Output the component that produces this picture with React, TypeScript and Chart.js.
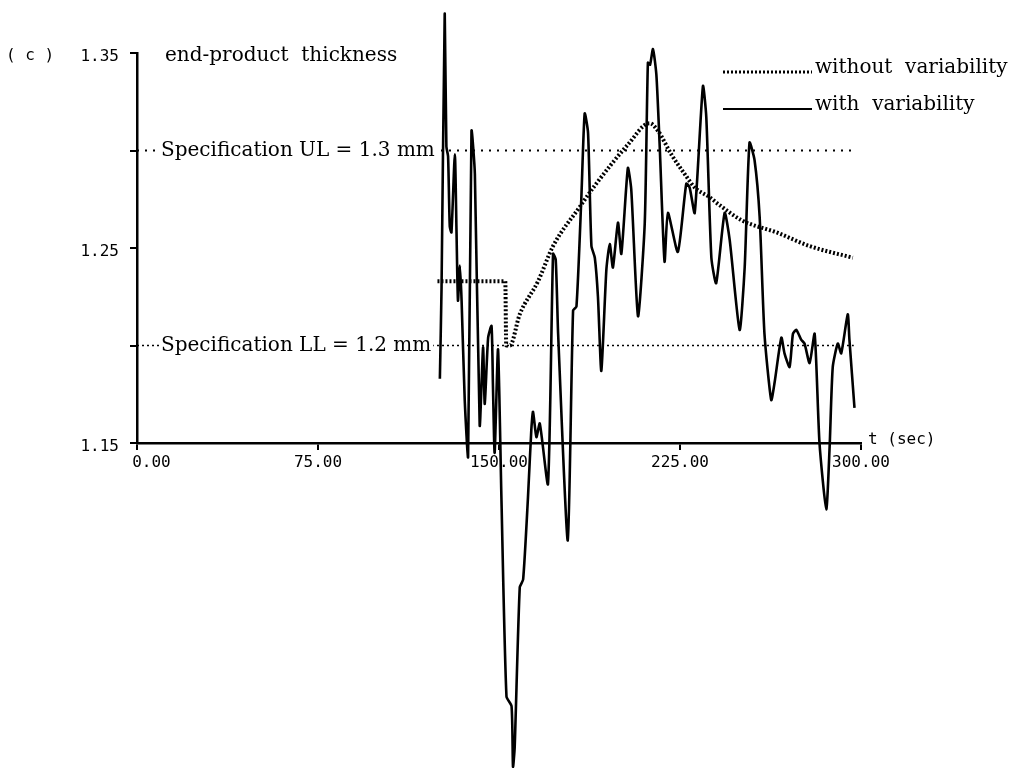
import React, { useEffect, useRef } from "react";
import { Chart, registerables } from "chart.js";

Chart.register(...registerables);

// ---- data ----
const withTimes = [
  125.5, 126.2, 127.5, 128.2, 128.9, 129.6, 130.3, 131.7, 132.4, 133.0, 133.8, 134.5, 135.8, 137.2,
  138.6, 140.0, 142.0, 143.4, 144.1, 145.5, 146.9, 147.5, 148.2, 149.6, 151.0, 153.1, 155.2, 155.8,
  156.5, 158.6, 160.0, 162.0, 163.4, 164.1, 165.5, 166.9, 170.3, 172.4, 173.5, 174.5, 178.5, 180.7,
  182.1, 184.1, 185.5, 186.9, 188.3, 189.7, 191.0, 192.4, 194.5, 195.9, 197.2, 199.3, 200.7, 203.4,
  204.8, 207.6, 210.4, 211.7, 212.6, 213.8, 215.2, 216.6, 218.6, 220.0, 224.1, 227.6, 229.0, 231.1,
  234.5, 235.9, 238.0, 240.0, 243.5, 245.6, 249.7, 251.8, 253.8, 255.9, 258.0, 260.0, 262.8, 264.2,
  267.0, 268.3, 270.4, 271.8, 273.2, 275.2, 276.6, 278.7, 280.8, 282.8, 285.6, 287.0, 288.3, 290.4,
  291.8, 294.5, 295.2, 297.3,
];
const withValues = [
  1.183, 1.23, 1.37, 1.302, 1.297, 1.261, 1.258, 1.298, 1.258, 1.223, 1.241, 1.223, 1.172, 1.143,
  1.31, 1.288, 1.159, 1.199, 1.17, 1.204, 1.21, 1.179, 1.145, 1.198, 1.122, 1.02, 1.015, 0.984,
  0.994, 1.076, 1.08, 1.122, 1.157, 1.166, 1.153, 1.16, 1.129, 1.247, 1.244, 1.206, 1.1, 1.218,
  1.22, 1.275, 1.319, 1.309, 1.251, 1.245, 1.225, 1.187, 1.239, 1.252, 1.24, 1.263, 1.247, 1.291,
  1.28, 1.215, 1.263, 1.345, 1.344, 1.352, 1.339, 1.302, 1.243, 1.268, 1.248, 1.283, 1.281, 1.268,
  1.333, 1.317, 1.245, 1.232, 1.268, 1.254, 1.208, 1.24, 1.304, 1.295, 1.266, 1.206, 1.172, 1.181,
  1.204, 1.196, 1.189, 1.206, 1.208, 1.203, 1.201, 1.191, 1.206, 1.15, 1.116, 1.148, 1.189, 1.201,
  1.196, 1.216, 1.203, 1.168,
];
const withoutTimes = [
  124.5, 152.6, 153.0, 154.5, 158.6, 166.2, 172.4, 183.4, 189.7, 203.4, 212.4, 215.9, 221.4, 226.9,
  231.1, 237.3, 241.4, 250.9, 265.0, 278.7, 296.6,
];
const withoutValues = [
  1.233, 1.233, 1.2, 1.2, 1.216, 1.233, 1.251, 1.271, 1.282, 1.303, 1.314, 1.31, 1.298, 1.288,
  1.281, 1.276, 1.272, 1.264, 1.258, 1.251, 1.245,
];
const xTickValues = [0, 75, 150, 225, 300];
const xTickLabels = ["   0.00", "75.00", "150.00", "225.00", "300.00"];
const yTickValues = [1.15, 1.2, 1.25, 1.3, 1.35];
const yTickLabels = ["1.15", "", "1.25", "", "1.35"];
const specUL = 1.3;
const specLL = 1.2;
const specTimes = [0, 297];
const seriesLabels = ["without  variability", "with  variability"];
const panelText = "( c )";
const titleText = "end-product  thickness";
const xAxisTitle = "t (sec)";
const ulText = "Specification UL = 1.3 mm";
const llText = "Specification LL = 1.2 mm";

const MONO = '"DejaVu Sans Mono", monospace';
const SERIF = '"DejaVu Serif", serif';

const toPoints = (ts: number[], vs: number[]) => ts.map((t, i) => ({ x: t, y: vs[i] }));

const annotatePlugin = {
  id: "annotate",
  afterDraw(chart: any) {
    const ctx = chart.ctx as CanvasRenderingContext2D;
    const xs = chart.scales.x;
    const ys = chart.scales.y;
    ctx.save();
    ctx.fillStyle = "#000";
    ctx.textBaseline = "middle";
    ctx.textAlign = "left";

    const topY = ys.getPixelForValue(1.35);
    ctx.font = `16px ${MONO}`;
    ctx.fillText(panelText, 6, topY + 3);
    ctx.font = `20px ${SERIF}`;
    ctx.fillText(titleText, 165, topY + 3);

    // specification labels sitting on their dotted lines
    const specs: [number, string][] = [
      [specUL, ulText],
      [specLL, llText],
    ];
    for (const [val, txt] of specs) {
      const py = ys.getPixelForValue(val);
      ctx.font = `20px ${SERIF}`;
      const w = ctx.measureText(txt).width;
      ctx.fillStyle = "#fff";
      ctx.fillRect(159, py - 12, w + 4, 24);
      ctx.fillStyle = "#000";
      ctx.fillText(txt, 161, py);
    }

    // x axis title
    ctx.font = `16px ${MONO}`;
    ctx.fillText(xAxisTitle, xs.right + 7, xs.top - 3);

    // legend
    const ds = chart.data.datasets;
    const rows = [
      { y: 72, ds: ds[0], text: seriesLabels[0] },
      { y: 109, ds: ds[1], text: seriesLabels[1] },
    ];
    ctx.textBaseline = "alphabetic";
    for (const r of rows) {
      ctx.save();
      ctx.strokeStyle = "#000";
      ctx.lineWidth = r.ds.legendWidth;
      ctx.setLineDash(r.ds.borderDash || []);
      ctx.beginPath();
      ctx.moveTo(723, r.y);
      ctx.lineTo(812, r.y);
      ctx.stroke();
      ctx.restore();
      ctx.font = `20px ${SERIF}`;
      ctx.fillStyle = "#000";
      ctx.fillText(r.text, 815, r.y + 1);
    }
    ctx.restore();
  },
};

export default function App() {
  const canvasRef = useRef<HTMLCanvasElement | null>(null);

  useEffect(() => {
    if (!canvasRef.current) return;
    const chart = new Chart(canvasRef.current, {
      type: "line",
      data: {
        datasets: [
          {
            label: seriesLabels[0],
            data: toPoints(withoutTimes, withoutValues),
            borderColor: "#000",
            borderWidth: 4,
            borderDash: [2, 2],
            borderCapStyle: "butt",
            pointRadius: 0,
            cubicInterpolationMode: "monotone",
            clip: false,
            legendWidth: 3,
          } as any,
          {
            label: seriesLabels[1],
            data: toPoints(withTimes, withValues),
            borderColor: "#000",
            borderWidth: 2.6,
            pointRadius: 0,
            tension: 0.2,
            clip: false,
            legendWidth: 2,
          } as any,
          {
            label: "UL",
            data: toPoints(specTimes, [specUL, specUL]),
            borderColor: "#000",
            borderWidth: 2,
            borderDash: [2, 6],
            pointRadius: 0,
            clip: false,
          },
          {
            label: "LL",
            data: toPoints(specTimes, [specLL, specLL]),
            borderColor: "#000",
            borderWidth: 1.5,
            borderDash: [2, 3],
            pointRadius: 0,
            clip: false,
          },
        ],
      },
      options: {
        responsive: false,
        animation: false,
        events: [],
        layout: { padding: { top: 53, left: 0, right: 163, bottom: 285 } },
        plugins: { legend: { display: false }, tooltip: { enabled: false } },
        scales: {
          x: {
            type: "linear",
            min: 0,
            max: 300,
            afterBuildTicks: (s: any) => {
              s.ticks = xTickValues.map((v) => ({ value: v }));
            },
            afterFit: (s: any) => {
              s.height = 40;
            },
            ticks: {
              autoSkip: false,
              maxRotation: 0,
              padding: 3,
              color: "#000",
              font: { family: MONO, size: 16 },
              callback: (v: any) => xTickLabels[xTickValues.indexOf(Number(v))] ?? "",
            },
            grid: { drawOnChartArea: false, drawTicks: true, tickLength: 7, color: "#000", lineWidth: 2 },
            border: { display: true, color: "#000", width: 2.5 },
          },
          y: {
            type: "linear",
            min: 1.15,
            max: 1.35,
            afterBuildTicks: (s: any) => {
              s.ticks = yTickValues.map((v) => ({ value: v }));
            },
            afterFit: (s: any) => {
              s.width = 137;
            },
            ticks: {
              autoSkip: false,
              padding: 11,
              labelOffset: 4,
              color: "#000",
              font: { family: MONO, size: 16 },
              callback: (v: any) => {
                const i = yTickValues.findIndex((t) => Math.abs(t - Number(v)) < 1e-6);
                return i >= 0 ? yTickLabels[i] : "";
              },
            },
            grid: { drawOnChartArea: false, drawTicks: true, tickLength: 7, color: "#000", lineWidth: 2 },
            border: { display: true, color: "#000", width: 2.5 },
          },
        },
      } as any,
      plugins: [annotatePlugin],
    });
    return () => chart.destroy();
  }, []);

  return (
    <div style={{ position: "fixed", left: 0, top: 0, width: 1024, height: 768, background: "#fff" }}>
      <canvas ref={canvasRef} width={1024} height={768} style={{ display: "block" }} />
    </div>
  );
}
